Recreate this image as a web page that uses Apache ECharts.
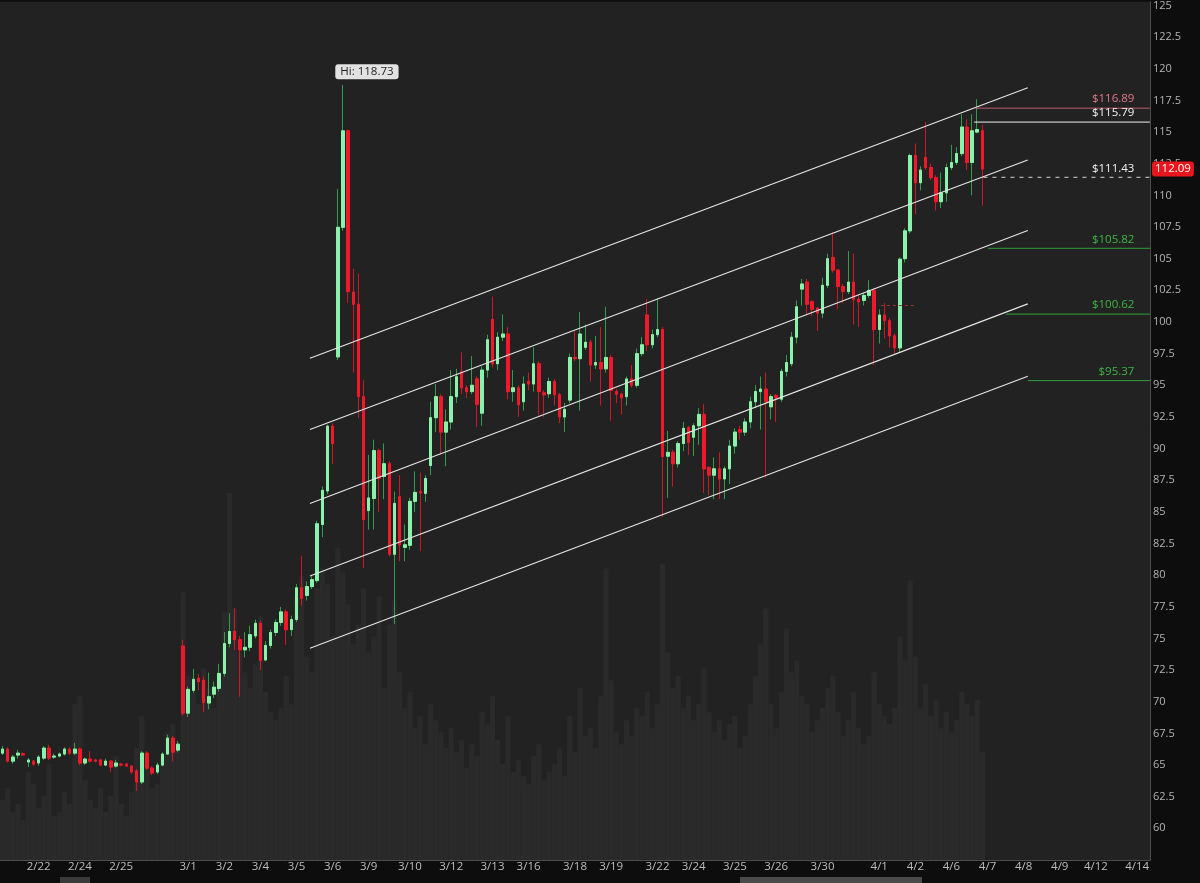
<!DOCTYPE html>
<html><head><meta charset="utf-8">
<script src="https://cdn.jsdelivr.net/npm/echarts@6/dist/echarts.min.js"></script>
<style>html,body{margin:0;padding:0;background:#0d0d0d;overflow:hidden}#c{width:1200px;height:883px}</style>
</head><body><div id="c"></div>
<script>
// ---- data (hourly candles) ----
const openP = [65.94,66.26,65.31,65.79,65.9,65.24,65.31,65.16,65.55,66.34,
65.63,65.71,65.87,66.26,65.94,66.26,65.16,65.47,65.4,65.4,
65.0,65.31,64.92,65.08,65.08,64.92,64.53,63.66,65.94,64.76,
64.45,65.0,65.87,67.13,66.18,
74.4,69.1,70.9,71.85,71.7,69.9,70.6,71.06,72.24,74.6,
75.55,74.9,74.1,74.3,75.2,76.2,73.3,74.45,75.47,76.26,
77.1,75.7,76.5,79.0,78.4,79.1,79.57,84.0,86.65,91.77,
97.24,107.48,115.1,102.36,101.4,94.1,85.1,86.06,89.84,87.8,
88.8,81.65,86.2,82.2,82.36,85.83,86.6,86.46,88.66,92.44,
94.1,91.3,92.1,94.1,96.06,94.8,94.5,95.5,92.8,96.2,
100.2,96.7,98.8,99.05,94.5,94.8,93.7,95.3,95.1,96.7,
94.4,94.33,95.3,94.25,92.5,93.83,97.2,97.1,98.0,98.4,
96.6,96.8,96.3,97.2,94.5,94.3,94.1,95.5,95.0,97.5,
100.55,98.2,99.0,99.4,89.4,89.7,88.8,90.4,91.65,90.9,
91.8,92.7,88.5,87.9,88.4,87.6,88.4,90.2,91.5,91.3,
92.1,93.7,94.5,94.7,93.3,94.2,93.9,96.1,96.7,98.8,
102.6,103.15,101.6,101.1,100.7,102.9,105.1,104.1,102.8,102.4,
103.15,101.8,101.7,102.1,102.5,99.4,100.55,100.1,98.9,97.95,
105.0,107.2,113.15,111.0,113.0,112.2,111.4,109.5,110.2,112.2,
112.6,113.3,115.4,112.6,115.0,115.1];
const closeP = [66.26,65.31,65.63,65.94,65.8,65.4,65.08,65.63,66.34,65.55,
65.71,65.87,66.26,65.94,66.26,65.16,65.47,65.31,65.31,65.0,
65.31,64.84,65.16,65.0,64.92,64.45,63.66,65.94,64.76,64.37,
65.0,65.87,67.13,66.02,66.65,
69.1,70.98,71.77,71.6,69.96,70.4,71.15,72.24,74.6,75.55,
74.9,74.1,74.3,75.3,76.2,73.27,74.45,75.47,76.26,77.1,
75.7,76.5,79.0,78.15,79.1,79.65,84.06,86.7,91.77,90.4,
107.48,115.1,102.4,101.4,94.1,84.4,86.1,89.84,87.64,88.8,
81.65,85.67,82.4,82.4,85.83,86.54,86.5,87.64,92.44,94.1,
91.3,92.1,94.1,95.67,94.8,94.5,95.0,93.5,96.2,98.6,
96.7,98.8,99.05,94.5,94.8,93.46,95.1,95.1,96.7,94.5,
94.25,95.3,94.25,92.5,93.1,97.2,97.1,99.05,98.4,96.6,
96.8,96.3,97.2,94.6,94.3,94.0,95.5,95.0,97.5,98.2,
98.2,99.0,99.4,89.37,89.7,88.8,90.4,91.6,90.5,91.8,
92.7,88.4,87.9,88.4,87.6,88.4,90.2,91.3,91.3,92.1,
93.7,94.5,94.7,93.7,94.1,94.0,96.1,96.8,98.8,101.2,
103.0,101.4,101.0,100.7,102.9,105.0,104.1,102.8,102.4,103.15,
101.8,101.6,102.1,102.5,99.4,100.55,100.1,98.9,97.95,104.96,
107.2,113.15,111.0,112.0,112.2,111.4,109.5,110.2,112.2,112.6,
113.3,115.4,112.6,115.1,115.2,112.09];
const highP = [66.5,66.4,65.8,66.2,66.0,65.55,65.4,65.8,66.5,66.6,
65.9,66.0,66.4,66.4,66.75,66.4,65.6,66.1,65.5,65.5,
65.5,65.4,65.4,65.15,65.15,65.0,64.7,66.1,66.1,64.9,
65.2,66.0,67.4,67.3,66.9,
74.9,71.2,72.6,72.2,72.0,72.3,71.6,73.0,75.5,77.0,
77.4,75.2,75.5,76.0,76.5,76.4,74.8,75.7,76.5,77.5,
77.3,76.8,79.3,81.5,79.5,79.9,84.3,87.0,91.9,92.0,
110.5,118.73,115.2,104.2,103.8,95.4,89.5,90.7,90.0,90.4,
89.0,86.6,87.9,84.0,86.1,88.2,88.1,87.9,93.7,95.1,
94.3,93.1,96.2,96.3,97.6,95.0,97.3,95.7,96.5,99.0,
102.0,99.2,100.6,99.6,96.2,95.0,95.7,96.0,98.0,96.9,
94.6,95.6,95.5,94.4,93.6,97.5,99.3,100.8,99.8,98.6,
98.9,99.6,101.2,97.4,94.7,94.4,95.7,96.6,97.9,98.8,
101.8,99.4,101.9,99.6,91.4,89.9,90.6,92.1,91.8,92.0,
93.2,93.5,88.6,89.3,89.7,88.6,90.7,91.6,91.8,92.4,
94.1,95.0,95.7,96.0,94.3,94.3,96.3,97.4,99.2,101.7,
103.4,103.4,101.7,101.2,103.5,105.4,107.1,104.2,103.0,105.6,
105.4,102.2,102.3,103.3,102.7,101.0,101.5,100.3,99.1,105.1,
107.4,113.3,114.1,112.3,115.8,112.5,111.6,111.8,112.5,114.0,
113.8,116.4,116.0,116.4,117.6,115.6];
const lowP = [65.8,65.2,65.1,65.5,65.7,64.85,64.9,64.95,65.4,65.4,
65.5,65.6,65.75,65.8,65.8,65.0,65.0,65.2,65.2,64.9,
64.9,64.45,64.8,64.9,64.85,64.3,62.95,63.5,64.6,64.2,
64.3,64.9,65.8,65.3,66.0,
68.9,68.8,70.7,70.9,69.2,69.4,70.3,70.8,72.0,74.3,
74.1,70.4,73.5,74.0,75.0,72.5,73.2,74.2,75.2,76.0,
74.5,75.2,76.3,77.6,78.0,78.9,79.4,83.0,86.4,88.8,
97.0,107.2,101.5,96.0,92.4,80.55,83.6,83.6,85.0,86.0,
81.5,76.14,81.1,81.1,82.0,85.0,81.9,85.8,87.9,91.3,
89.5,88.6,91.5,93.6,94.3,94.0,94.3,91.7,91.8,95.6,
96.4,96.2,98.5,93.9,93.7,92.5,93.0,94.6,94.5,92.6,
92.5,94.0,93.4,92.0,91.3,93.6,96.9,93.0,97.8,95.3,
96.3,93.4,96.0,92.2,93.6,92.7,93.4,94.8,94.8,97.3,
97.7,97.9,98.8,84.6,86.1,87.0,88.5,89.8,89.5,89.4,
90.3,86.5,86.3,86.0,86.0,86.0,87.2,89.6,90.7,91.0,
91.6,93.2,91.5,87.7,92.3,92.1,93.7,95.7,96.5,98.3,
101.3,100.5,100.5,99.3,100.3,102.7,103.9,101.0,101.5,102.2,
99.8,99.6,101.3,101.9,96.6,98.3,98.7,98.0,97.5,97.6,
104.7,107.0,108.5,110.4,112.0,111.2,108.8,109.0,109.5,112.0,
112.4,113.1,112.0,110.0,114.9,109.2];
const volumeK = [1500,1800,1200,1400,1000,2200,1900,1300,1600,2400,
1100,1200,1700,1400,3900,4100,2000,1500,1300,1800,
1200,1600,2600,1400,1100,1700,2800,3600,2500,1800,
1900,2600,3200,3400,2900,
6700,4600,4200,3900,4800,4300,3800,4500,6200,9200,
6300,5200,4700,4300,4900,6100,4200,3700,3500,3800,
4600,3900,6600,7100,5100,4700,6800,7300,6900,5600,
7800,7200,6400,5400,5900,6800,5200,5600,6600,4300,
5900,6500,4700,3800,4200,3300,3600,2900,3900,3500,
3200,2800,3300,2700,3000,2300,2900,2600,3700,3400,
4100,3000,2400,3600,2200,2500,2100,1900,2600,2900,
2000,2200,2400,2800,2100,3600,2700,4300,3100,3300,
2800,4100,7300,4500,3200,2900,3500,3100,3800,3600,
4200,3300,3900,7400,5200,4300,4600,3800,4100,3500,
3900,4800,3700,3200,3500,3000,3400,3600,2800,3100,
3900,4600,5400,6300,3900,3300,4200,5800,4700,5000,
4100,3900,3200,3500,3800,4300,4600,3700,3100,3500,
4200,3300,2900,3100,4700,3900,3600,3400,3800,5600,
5000,7000,5100,3800,4400,3600,4000,3300,3700,3200,
3500,4200,3900,3600,4000,2700];
// date labels and the bar slot each one sits under
const dayLabels = ['2/22','2/24','2/25','3/1','3/2','3/4','3/5','3/6','3/9','3/10','3/12','3/13','3/16','3/18','3/19','3/22','3/24','3/25','3/26','3/30','4/1','4/2','4/6','4/7','4/8','4/9','4/12','4/14'];
const dayLabelSlot = [7,15,23,36,43,50,57,64,71,79,87,95,102,111,118,127,134,142,150,159,170,177,184,191,198,205,212,220];
// drawn channel lines: [startSlot, startPrice, endSlot, endPrice]
const channelLines = [
  [59.6, 97.14, 198.8, 118.50],
  [59.6, 91.50, 198.8, 112.80],
  [59.6, 85.66, 198.8, 107.22],
  [59.6, 79.94, 198.8, 101.43],
  [59.6, 74.23, 198.8, 95.71]
];
// horizontal price levels
const levelPrices = [116.89, 115.79, 111.43, 105.82, 100.62, 95.37];
const levelStartSlot = [188.6, 188.4, 190.2, 191.1, 194.6, 198.8];
const orderLine = [170.3, 176.9, 101.3];
const hiSlot = 66, hiPrice = 118.73;
const lastClose = 112.09;

// ---- layout / style constants ----
const TOTAL_SLOTS = 223;
const UP_FILL = '#8af2aa', UP_WICK = '#2f9e4c', DN_FILL = '#f0182a', DN_WICK = '#cf1624';
const levelColors = ['#b95c6c', '#f2f2f2', '#d8d8d8', '#2f9e38', '#2f9e38', '#2f9e38'];
const levelTextColors = ['#e07a8a', '#f2f2f2', '#f2f2f2', '#3cb843', '#3cb843', '#3cb843'];
const levelDashed = [false, false, true, false, false, false];

const slots = Array.from({length: TOTAL_SLOTS}, (_, i) => String(i));
const labelMap = {};
dayLabelSlot.forEach((s, i) => { labelMap[s] = dayLabels[i]; });

const wickData = openP.map((o, i) => [o, closeP[i], lowP[i], highP[i]]);
const bodyData = openP.map((o, i) => [o, closeP[i], Math.min(o, closeP[i]), Math.max(o, closeP[i])]);

const series = [];
series.push({
  type: 'bar', xAxisIndex: 0, yAxisIndex: 1, data: volumeK, barCategoryGap: '0%',
  itemStyle: {color: '#2a2a2a'}, silent: true, z: 1, animation: false
});
series.push({
  type: 'candlestick', xAxisIndex: 0, yAxisIndex: 0, data: wickData, barWidth: 3,
  itemStyle: {color: UP_WICK, color0: DN_WICK, borderColor: UP_WICK, borderColor0: DN_WICK, borderWidth: 1},
  z: 2, silent: true,
  markPoint: {
    silent: true, symbol: 'circle', symbolSize: 1, itemStyle: {color: 'rgba(0,0,0,0)'},
    data: [{coord: [hiSlot, hiPrice], value: hiPrice}],
    label: {show: true, position: 'inside', offset: [24, -13], formatter: 'Hi: ' + hiPrice.toFixed(2),
      backgroundColor: '#e2e2e2', color: '#1c1c1c', fontSize: 11.5, padding: [2, 5, 1, 5], borderRadius: 3,
      fontFamily: 'Open Sans'}
  }
});
series.push({
  type: 'candlestick', xAxisIndex: 0, yAxisIndex: 0, data: bodyData, barWidth: 3,
  itemStyle: {color: UP_FILL, color0: DN_FILL, borderColor: UP_FILL, borderColor0: DN_FILL, borderWidth: 1},
  z: 3, silent: true,
  markLine: {
    silent: true, symbol: ['none', 'none'], animation: false,
    lineStyle: {color: 'rgba(0,0,0,0)', width: 0},
    data: [{yAxis: lastClose}],
    label: {show: true, position: 'end', distance: 2, formatter: lastClose.toFixed(2), color: '#ffffff',
      backgroundColor: '#e8161c', padding: [2, 3, 1, 3], borderRadius: 3, fontSize: 11.5, fontFamily: 'Open Sans'}
  }
});
channelLines.forEach(c => {
  series.push({
    type: 'line', xAxisIndex: 1, yAxisIndex: 0, data: [[c[0], c[1]], [c[2], c[3]]],
    symbol: 'none', lineStyle: {color: '#e6e6e6', width: 1.1}, z: 5, silent: true, animation: false
  });
});
levelPrices.forEach((p, i) => {
  series.push({
    type: 'line', xAxisIndex: 1, yAxisIndex: 0, z: 6, silent: true, animation: false,
    symbol: 'circle', symbolSize: 1, itemStyle: {color: 'rgba(0,0,0,0)'},
    lineStyle: {color: levelColors[i], width: 1, type: levelDashed[i] ? [4, 5] : 'solid'},
    data: [
      {value: [levelStartSlot[i], p]},
      {value: [TOTAL_SLOTS - 0.52, p], label: {show: true, position: 'left', distance: 15, offset: [0, -9],
        formatter: '$' + p.toFixed(2), color: levelTextColors[i], fontSize: 11.5, fontFamily: 'Open Sans'}}
    ]
  });
});
series.push({
  type: 'line', xAxisIndex: 1, yAxisIndex: 0, z: 6, silent: true, animation: false, symbol: 'none',
  lineStyle: {color: '#8e3a30', width: 1, type: [3, 3]},
  data: [[orderLine[0], orderLine[2]], [orderLine[1], orderLine[2]]]
});

const option = {
  backgroundColor: '#0d0d0d',
  animation: false,
  textStyle: {fontFamily: 'Open Sans'},
  grid: {left: 0, right: 50, top: 0, bottom: 23, show: true, backgroundColor: '#222222', borderWidth: 0},
  xAxis: [
    {type: 'category', data: slots, boundaryGap: true,
      axisLine: {show: true, onZero: false, lineStyle: {color: '#4c4c4c'}},
      axisTick: {show: false}, splitLine: {show: false},
      axisLabel: {color: '#bdbdbd', fontSize: 11.5, margin: 1,
        interval: (idx) => labelMap[idx] !== undefined,
        formatter: (v, idx) => labelMap[idx] || ''}},
    {type: 'value', min: -0.5, max: TOTAL_SLOTS - 0.5, show: false}
  ],
  yAxis: [
    {type: 'value', position: 'right', min: 57.5, max: 125.3, interval: 2.5, scale: true,
      axisLine: {show: true, onZero: false, lineStyle: {color: '#4c4c4c'}},
      axisTick: {show: false}, splitLine: {show: false},
      axisLabel: {color: '#b3b3b3', fontSize: 11, margin: 3,
        formatter: v => (Math.abs(v / 2.5 - Math.round(v / 2.5)) < 1e-6 && v >= 60) ? String(v) : ''}},
    {type: 'value', min: 0, max: 21500, show: false}
  ],
  graphic: [
    {type: 'rect', shape: {x: 60, y: 877, width: 30, height: 6}, style: {fill: '#3a3a3a'}, silent: true},
    {type: 'rect', shape: {x: 740, y: 877, width: 182, height: 6}, style: {fill: '#4a4a4a'}, silent: true}
  ],
  series: series
};
const chart = echarts.init(document.getElementById('c'), null, {renderer: 'canvas'});
chart.setOption(option);
</script></body></html>
